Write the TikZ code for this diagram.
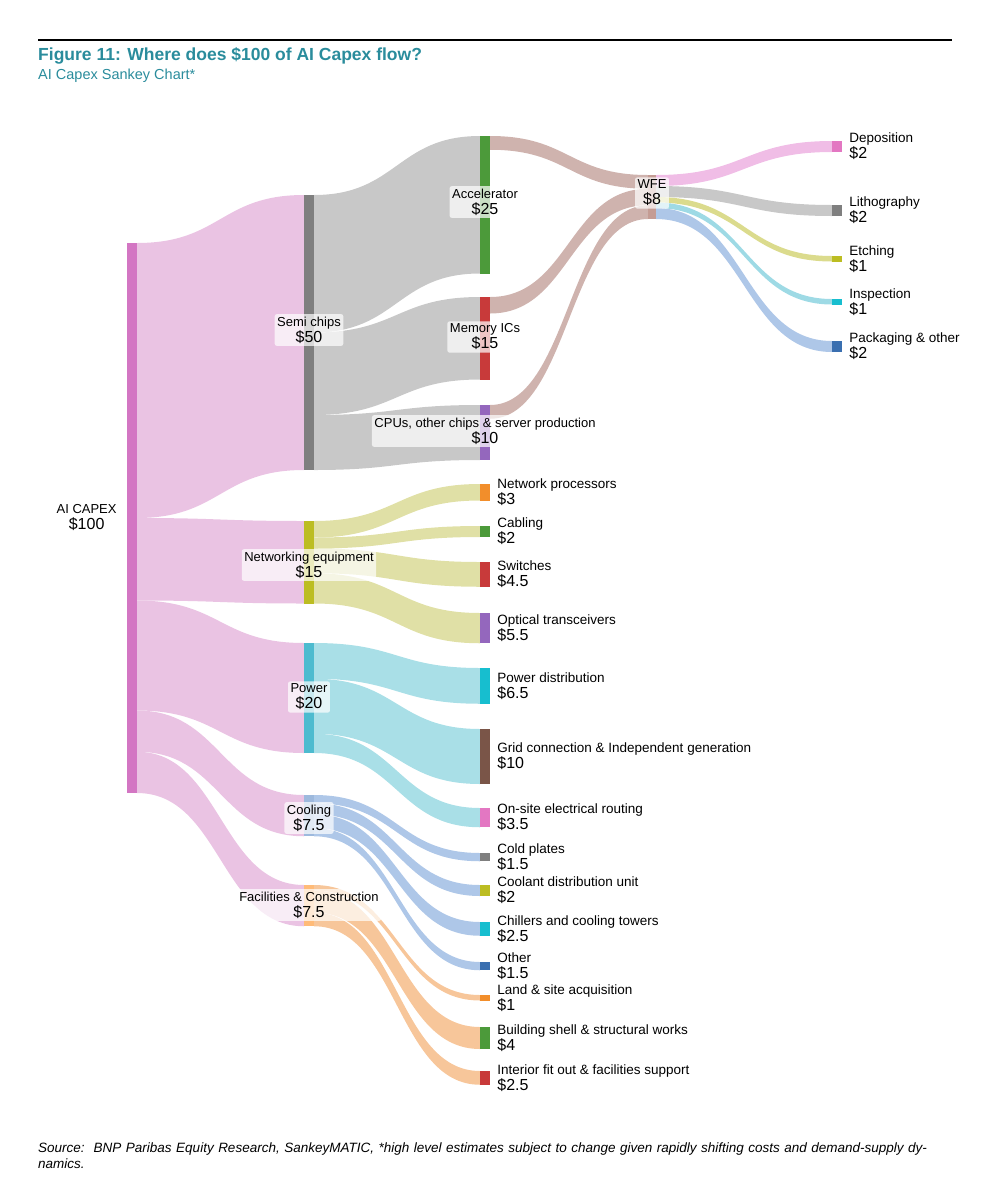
\documentclass[tikz,border=0pt]{standalone}
\usepackage{fontspec}
\setmainfont{Liberation Sans}
\usetikzlibrary{positioning}

\definecolor{capexbar}{HTML}{D376C3}
\definecolor{capexflow}{HTML}{EAC3E3}
\definecolor{semibar}{HTML}{7F7F7F}
\definecolor{semiflow}{HTML}{C8C8C8}
\definecolor{wfeflow}{HTML}{CFB3AE}
\definecolor{wfebar}{HTML}{C49C94}
\definecolor{netbar}{HTML}{BCBD22}
\definecolor{netflow}{HTML}{E0E0A6}
\definecolor{powbar}{HTML}{4DBBCF}
\definecolor{powflow}{HTML}{A9DFE7}
\definecolor{coolbar}{HTML}{9DB9DD}
\definecolor{coolflow}{HTML}{AEC7E8}
\definecolor{facbar}{HTML}{FFBB78}
\definecolor{facflow}{HTML}{F7C69A}
\definecolor{tgreen}{HTML}{4C9A3A}
\definecolor{tred}{HTML}{C83A3A}
\definecolor{tpurple}{HTML}{9467BD}
\definecolor{torange}{HTML}{F28E2B}
\definecolor{tpink}{HTML}{E377C2}
\definecolor{tcyan}{HTML}{17BECF}
\definecolor{tblue}{HTML}{3A6FB0}
\definecolor{tbrown}{HTML}{7A5548}
\definecolor{pinkfl}{HTML}{F0BDE6}
\definecolor{olivefl}{HTML}{DBDB8D}
\definecolor{cyanfl}{HTML}{9EDAE5}
\definecolor{titleteal}{HTML}{2A8C9C}

% flow band: x1, y1 top, y1 bottom, x2, y2 top, y2 bottom, colour
\newcommand{\flowband}[7]{%
  \fill[#7] (#1,#2) .. controls ({(#1+#4)/2},#2) and ({(#1+#4)/2},#5) .. (#4,#5)
    -- (#4,#6) .. controls ({(#1+#4)/2},#6) and ({(#1+#4)/2},#3) .. (#1,#3) -- cycle;}

\begin{document}
\begin{tikzpicture}[x=1pt,y=-1pt,
  bar/.style={rectangle, inner sep=0pt, minimum width=10pt},
  tag/.style={fill=white, fill opacity=0.7, text opacity=1, rounded corners=2pt,
    align=center, inner sep=2.5pt, font=\fontsize{13}{15}\selectfont},
  leaf/.style={anchor=west, align=left, inner sep=0pt, font=\fontsize{13.5}{15}\selectfont}]
\useasboundingbox (0,0) rectangle (984,1200);

% Title
\draw[line width=1.2pt] (38,40) -- (952,40);
\node[anchor=west, inner sep=0pt, text=titleteal, font=\bfseries\fontsize{17.5}{20}\selectfont] (title) at (38,56) {Figure 11: Where does \$100 of AI Capex flow?};
\node[anchor=west, inner sep=0pt, text=titleteal, font=\fontsize{14.5}{17}\selectfont] (subtitle) at (38,76) {AI Capex Sankey Chart*};

% Flows
\flowband{137}{243}{518}{304}{195}{470}{capexflow}
\flowband{137}{518}{600.5}{304}{521}{603.5}{capexflow}
\flowband{137}{600.5}{710.5}{304}{643}{753}{capexflow}
\flowband{137}{710.5}{751.75}{304}{795}{836.25}{capexflow}
\flowband{137}{751.75}{793}{304}{885}{926.25}{capexflow}
\flowband{314}{195}{332.5}{480}{136}{273.5}{semiflow}
\flowband{314}{332.5}{415}{480}{297}{379.5}{semiflow}
\flowband{314}{415}{470}{480}{405}{460}{semiflow}
\flowband{490}{136}{149.75}{648}{175}{188.75}{wfeflow}
\flowband{490}{297}{313.5}{648}{188.75}{205.25}{wfeflow}
\flowband{490}{405}{418.75}{648}{205.25}{219}{wfeflow}
\flowband{656}{175}{186}{832}{141}{152}{pinkfl}
\flowband{656}{186}{197}{832}{205}{216}{semiflow}
\flowband{656}{197}{202.5}{832}{256}{261.5}{olivefl}
\flowband{656}{202.5}{208}{832}{299}{304.5}{cyanfl}
\flowband{656}{208}{219}{832}{341}{352}{coolflow}
\flowband{314}{521}{537.5}{480}{484}{500.5}{netflow}
\flowband{314}{537.5}{548.5}{480}{526}{537}{netflow}
\flowband{314}{548.5}{573.25}{480}{562}{586.75}{netflow}
\flowband{314}{573.25}{603.5}{480}{613}{643.25}{netflow}
\flowband{314}{643}{678.75}{480}{668}{703.75}{powflow}
\flowband{314}{678.75}{733.75}{480}{729}{784}{powflow}
\flowband{314}{733.75}{753}{480}{808}{827.25}{powflow}
\flowband{314}{795}{803.25}{480}{853}{861.25}{coolflow}
\flowband{314}{803.25}{814.25}{480}{885}{896}{coolflow}
\flowband{314}{814.25}{828}{480}{922}{935.75}{coolflow}
\flowband{314}{828}{836.25}{480}{962}{970.25}{coolflow}
\flowband{314}{885}{890.5}{480}{995}{1000.5}{facflow}
\flowband{314}{890.5}{912.5}{480}{1027}{1049}{facflow}
\flowband{314}{912.5}{926.25}{480}{1071}{1084.75}{facflow}

% Bars
\node[bar, fill=capexbar, minimum height=550pt] (capex) at (132,518) {};
\node[bar, fill=semibar, minimum height=275pt] (semi) at (309,332.5) {};
\node[bar, fill=netbar, minimum height=82.5pt] (net) at (309,562.25) {};
\node[bar, fill=powbar, minimum height=110pt] (pow) at (309,698) {};
\node[bar, fill=coolbar, minimum height=41.25pt] (cool) at (309,815.6) {};
\node[bar, fill=facbar, minimum height=41.25pt] (fac) at (309,905.6) {};
\node[bar, fill=tgreen, minimum height=137.5pt] (accel) at (485,204.75) {};
\node[bar, fill=tred, minimum height=82.5pt] (mem) at (485,338.25) {};
\node[bar, fill=tpurple, minimum height=55pt] (cpu) at (485,432.5) {};
\node[bar, fill=wfebar, minimum height=44pt, minimum width=8pt] (wfe) at (652,197) {};
\node[bar, fill=tpink, minimum height=11pt] (depo) at (837,146.5) {};
\node[bar, fill=semibar, minimum height=11pt] (litho) at (837,210.5) {};
\node[bar, fill=netbar, minimum height=5.5pt] (etch) at (837,258.75) {};
\node[bar, fill=tcyan, minimum height=5.5pt] (insp) at (837,301.75) {};
\node[bar, fill=tblue, minimum height=11pt] (pack) at (837,346.5) {};
\node[bar, fill=torange, minimum height=16.5pt] (netproc) at (485,492.25) {};
\node[bar, fill=tgreen, minimum height=11pt] (cabling) at (485,531.5) {};
\node[bar, fill=tred, minimum height=24.75pt] (switch) at (485,574.4) {};
\node[bar, fill=tpurple, minimum height=30.25pt] (optic) at (485,628.1) {};
\node[bar, fill=tcyan, minimum height=35.75pt] (powdist) at (485,685.9) {};
\node[bar, fill=tbrown, minimum height=55pt] (grid) at (485,756.5) {};
\node[bar, fill=tpink, minimum height=19.25pt] (onsite) at (485,817.6) {};
\node[bar, fill=semibar, minimum height=8.25pt] (cold) at (485,857.1) {};
\node[bar, fill=netbar, minimum height=11pt] (coolant) at (485,890.5) {};
\node[bar, fill=tcyan, minimum height=13.75pt] (chill) at (485,928.9) {};
\node[bar, fill=tblue, minimum height=8.25pt] (other) at (485,966.1) {};
\node[bar, fill=torange, minimum height=5.5pt] (land) at (485,997.75) {};
\node[bar, fill=tgreen, minimum height=22pt] (build) at (485,1038) {};
\node[bar, fill=tred, minimum height=13.75pt] (interior) at (485,1077.9) {};

% Labels
\newcommand{\val}[1]{\\[1pt]{\fontsize{16}{18}\selectfont #1}}
\node[align=center, inner sep=0pt, font=\fontsize{13}{15}\selectfont, left=10pt of capex] (capexlbl) {AI CAPEX\val{\$100}};
\node[tag] (semilbl) at (309,330) {Semi chips\val{\$50}};
\node[tag] (netlbl) at (309,565) {Networking equipment\val{\$15}};
\node[tag] (powlbl) at (309,697) {Power\val{\$20}};
\node[tag] (coollbl) at (309,818) {Cooling\val{\$7.5}};
\node[tag] (faclbl) at (309,905) {Facilities \& Construction\val{\$7.5}};
\node[tag] (accellbl) at (485,202) {Accelerator\val{\$25}};
\node[tag] (memlbl) at (485,337) {Memory ICs\val{\$15}};
\node[tag] (cpulbl) at (485,431) {CPUs, other chips \& server production\val{\$10}};
\node[tag] (wfelbl) at (652,193) {WFE\val{\$8}};
\node[leaf, right=7pt of depo] {Deposition\val{\$2}};
\node[leaf, right=7pt of litho] {Lithography\val{\$2}};
\node[leaf, right=7pt of etch] {Etching\val{\$1}};
\node[leaf, right=7pt of insp] {Inspection\val{\$1}};
\node[leaf, right=7pt of pack] {Packaging \& other\val{\$2}};
\node[leaf, right=7pt of netproc] {Network processors\val{\$3}};
\node[leaf, right=7pt of cabling] {Cabling\val{\$2}};
\node[leaf, right=7pt of switch] {Switches\val{\$4.5}};
\node[leaf, right=7pt of optic] {Optical transceivers\val{\$5.5}};
\node[leaf, right=7pt of powdist] {Power distribution\val{\$6.5}};
\node[leaf, right=7pt of grid] {Grid connection \& Independent generation\val{\$10}};
\node[leaf, right=7pt of onsite] {On-site electrical routing\val{\$3.5}};
\node[leaf, right=7pt of cold] {Cold plates\val{\$1.5}};
\node[leaf, right=7pt of coolant] {Coolant distribution unit\val{\$2}};
\node[leaf, right=7pt of chill] {Chillers and cooling towers\val{\$2.5}};
\node[leaf, right=7pt of other] {Other\val{\$1.5}};
\node[leaf, right=7pt of land] {Land \& site acquisition\val{\$1}};
\node[leaf, right=7pt of build] {Building shell \& structural works\val{\$4}};
\node[leaf, right=7pt of interior] {Interior fit out \& facilities support\val{\$2.5}};

% Source
\node[anchor=north west, align=left, inner sep=0pt, text width=915pt, font=\itshape\fontsize{13.5}{16}\selectfont] (source) at (38,1143) {Source:\ \ BNP Paribas Equity Research, SankeyMATIC, *high level estimates subject to change given rapidly shifting costs and demand-supply dynamics.};
\end{tikzpicture}
\end{document}
